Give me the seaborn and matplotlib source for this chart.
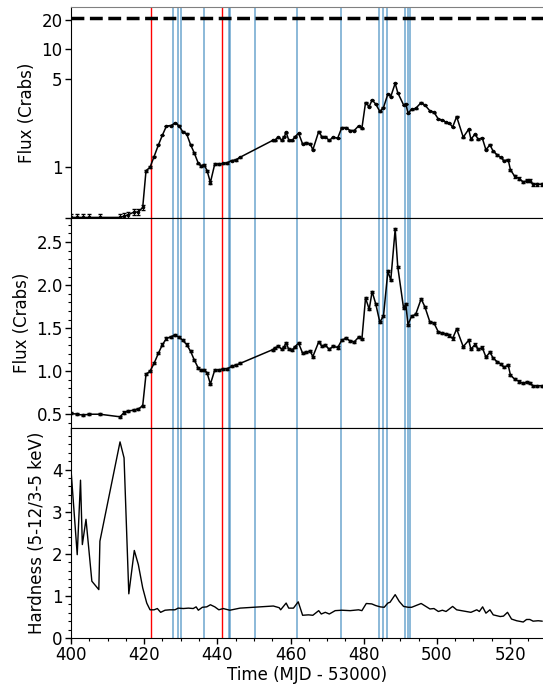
import numpy as np
import matplotlib
matplotlib.use('Agg')
import matplotlib.pyplot as plt
from matplotlib.ticker import MultipleLocator, NullLocator, FixedLocator, FixedFormatter
import seaborn as sns

# MJD - 53000
time = [400.0, 401.7, 403.2, 405.0, 407.9, 413.4, 414.5, 415.7, 417.2, 418.4, 419.6,
        420.5, 421.6, 422.7, 423.9, 425.0, 426.1, 427.3, 428.4, 429.5, 430.5, 431.6,
        432.7, 433.7, 434.8, 435.5, 436.4, 437.2, 438.1, 439.3, 440.4, 441.6, 442.7,
        443.9, 445.0, 446.2, 455.1, 455.7, 456.7, 457.6, 458.3, 458.8, 459.5, 460.5,
        461.2, 462.2, 463.3, 464.3, 465.4, 466.1, 467.7, 468.6, 469.5, 470.6, 471.6,
        472.9, 474.0, 475.2, 476.3, 477.4, 478.6, 479.5, 480.5, 481.5, 482.3, 483.3,
        484.4, 485.4, 486.6, 487.4, 488.6, 489.3, 490.9, 491.5, 492.1, 493.1, 494.2,
        495.7, 496.7, 498.1, 499.2, 500.4, 501.5, 502.5, 503.4, 504.3, 505.4, 507.2,
        508.7, 509.3, 510.4, 511.3, 512.4, 513.4, 514.5, 515.4, 516.5, 517.4, 518.3,
        519.5, 520.1, 521.3, 522.5, 523.6, 524.5, 525.4, 526.3, 527.4, 528.6]

flux_top = [0.64, 0.64, 0.64, 0.64, 0.64, 0.64, 0.644, 0.65, 0.66, 0.66, 0.68,
            0.95, 0.99, 1.14, 1.36, 1.60, 1.88, 1.89, 1.98, 1.89, 1.70, 1.63,
            1.36, 1.20, 1.04, 1.01, 1.02, 0.95, 0.835, 1.035, 1.03, 1.04, 1.05,
            1.08, 1.09, 1.13, 1.46, 1.47, 1.54, 1.47, 1.55, 1.68, 1.47, 1.46,
            1.55, 1.65, 1.38, 1.40, 1.38, 1.26, 1.70, 1.55, 1.55, 1.46, 1.54,
            1.52, 1.82, 1.82, 1.73, 1.73, 1.88, 1.80, 2.97, 2.74, 3.14, 2.88,
            2.48, 2.68, 3.57, 3.38, 4.51, 3.67, 2.83, 2.90, 2.40, 2.59, 2.64,
            2.97, 2.83, 2.51, 2.44, 2.14, 2.10, 2.01, 1.98, 1.84, 2.24, 1.54,
            1.77, 1.49, 1.62, 1.49, 1.52, 1.26, 1.36, 1.23, 1.17, 1.13, 1.08,
            1.09, 0.96, 0.89, 0.87, 0.84, 0.85, 0.85, 0.82, 0.82, 0.82]

flux_mid = [0.51, 0.50, 0.49, 0.50, 0.50, 0.47, 0.52, 0.535, 0.55, 0.56, 0.60,
            0.965, 1.00, 1.09, 1.21, 1.31, 1.38, 1.40, 1.42, 1.395, 1.36, 1.31,
            1.23, 1.13, 1.035, 1.01, 1.015, 0.98, 0.85, 1.015, 1.015, 1.025, 1.03,
            1.055, 1.07, 1.09, 1.25, 1.27, 1.29, 1.255, 1.285, 1.33, 1.255, 1.25,
            1.285, 1.325, 1.21, 1.22, 1.23, 1.17, 1.34, 1.29, 1.30, 1.255, 1.29,
            1.275, 1.36, 1.385, 1.35, 1.34, 1.395, 1.37, 1.85, 1.72, 1.925, 1.78,
            1.57, 1.64, 2.16, 2.06, 2.65, 2.215, 1.73, 1.78, 1.54, 1.64, 1.66,
            1.84, 1.75, 1.57, 1.56, 1.455, 1.44, 1.43, 1.415, 1.38, 1.49, 1.285,
            1.36, 1.255, 1.31, 1.255, 1.275, 1.165, 1.22, 1.15, 1.11, 1.085, 1.045,
            1.07, 0.955, 0.905, 0.88, 0.86, 0.87, 0.86, 0.83, 0.83, 0.83]

flux_err = 0.012

hard_time = [400.0, 401.7, 402.6, 403.1, 404.1, 405.7, 407.6, 407.9, 413.4, 414.5,
             415.8, 417.3, 418.4, 419.6, 420.7, 421.6, 422.7, 423.6, 424.5, 425.7,
             427.0, 428.4, 429.3, 430.7, 432.1, 433.4, 434.2, 434.8, 435.9, 437.1,
             438.1, 439.3, 440.4, 441.6, 443.4, 446.2, 455.3, 456.9, 457.3, 458.8,
             459.5, 460.8, 462.1, 463.3, 464.9, 466.1, 467.7, 468.4, 469.5, 470.6,
             472.2, 474.0, 476.3, 478.6, 479.5, 480.7, 482.2, 483.3, 484.5, 485.6,
             486.6, 487.2, 488.6, 489.7, 490.9, 492.2, 493.1, 495.7, 498.1, 499.2,
             500.4, 501.5, 502.5, 504.3, 505.4, 509.3, 510.9, 511.6, 512.5, 513.4,
             514.5, 515.4, 517.3, 518.2, 519.3, 520.4, 521.8, 523.6, 524.5, 525.4,
             526.3, 527.7, 528.8]
hardness = [4.0, 1.98, 3.75, 2.22, 2.82, 1.35, 1.15, 2.30, 4.66, 4.28,
            1.05, 2.08, 1.745, 1.19, 0.83, 0.67, 0.67, 0.70, 0.61, 0.66,
            0.67, 0.67, 0.71, 0.70, 0.71, 0.70, 0.74, 0.66, 0.73, 0.74,
            0.79, 0.74, 0.67, 0.70, 0.66, 0.71, 0.76, 0.72, 0.67, 0.83,
            0.71, 0.71, 0.86, 0.54, 0.55, 0.54, 0.65, 0.57, 0.61, 0.57,
            0.65, 0.66, 0.65, 0.67, 0.65, 0.82, 0.81, 0.77, 0.74, 0.73,
            0.83, 0.85, 1.03, 0.87, 0.75, 0.73, 0.73, 0.82, 0.69, 0.70,
            0.63, 0.66, 0.63, 0.75, 0.67, 0.61, 0.67, 0.63, 0.74, 0.59,
            0.67, 0.55, 0.51, 0.52, 0.61, 0.45, 0.41, 0.38, 0.44, 0.44,
            0.40, 0.41, 0.40]

red_lines = [421.8, 441.4]
blue_lines = [427.8, 429.2, 430.1, 436.3, 443.3, 443.5, 450.3, 461.7, 473.9,
              484.2, 485.2, 486.4, 491.2, 492.1, 492.7]
dash_level = 21

sns.set_style('ticks')
plt.rcParams['font.family'] = ['DejaVu Sans']
plt.rcParams['font.size'] = 12
plt.rcParams['xtick.direction'] = 'out'
plt.rcParams['ytick.direction'] = 'out'
for key in ['text.color', 'axes.labelcolor', 'xtick.color', 'ytick.color', 'axes.edgecolor']:
    plt.rcParams[key] = 'black'

fig = plt.figure(figsize=(5.43, 6.87), dpi=100)
left, width = 71 / 543, 472 / 543
ax1 = fig.add_axes([left, 469 / 687, width, 210.7 / 687])
ax2 = fig.add_axes([left, 259 / 687, width, 210 / 687])
ax3 = fig.add_axes([left, 49 / 687, width, 210 / 687])


def add_lines(ax):
    for t in blue_lines:
        ax.axvline(t, color='C0', alpha=0.6, lw=1.2, zorder=1)
    for t in red_lines:
        ax.axvline(t, color='red', lw=1, zorder=1)


# top panel: flux on offset-log scale
sns.lineplot(x=time, y=flux_top, ax=ax1, color='k', lw=1.1, marker='o', ms=1.8,
             mec='k', estimator=None)
ax1.errorbar(time, flux_top, yerr=flux_err, fmt='none', ecolor='k', elinewidth=0.8, capsize=1.5)
ax1.axhline(dash_level, color='k', ls='--', lw=2.5)
ax1.set_yscale('function', functions=(lambda y: np.log10(np.clip(y - 0.5, 1e-6, None)),
                                      lambda y: 10 ** y + 0.5))
ax1.set_ylim(0.638, 27.3)
ax1.yaxis.set_major_locator(FixedLocator([0.638, 1, 5, 10, 20]))
ax1.yaxis.set_major_formatter(FixedFormatter(['', '1', '5', '10', '20']))
ax1.yaxis.set_minor_locator(NullLocator())
ax1.set_ylabel('Flux (Crabs)')
ax1.spines['top'].set_color('0.5')

# middle panel: linear flux
sns.lineplot(x=time, y=flux_mid, ax=ax2, color='k', lw=1.1, marker='o', ms=1.8,
             mec='k', estimator=None)
ax2.errorbar(time, flux_mid, yerr=flux_err, fmt='none', ecolor='k', elinewidth=0.8, capsize=1.5)
ax2.set_ylim(0.34, 2.78)
ax2.yaxis.set_major_locator(MultipleLocator(0.5))
ax2.yaxis.set_minor_locator(MultipleLocator(0.1))
ax2.set_ylabel('Flux (Crabs)')

# bottom panel: hardness ratio
sns.lineplot(x=hard_time, y=hardness, ax=ax3, color='k', lw=1, estimator=None)
ax3.set_ylim(0, 4.99)
ax3.yaxis.set_major_locator(MultipleLocator(1))
ax3.yaxis.set_minor_locator(MultipleLocator(0.2))
ax3.xaxis.set_minor_locator(MultipleLocator(5))
ax3.set_ylabel('Hardness (5-12/3-5 keV)')
ax3.set_xlabel('Time (MJD - 53000)', labelpad=1)

for ax in (ax1, ax2, ax3):
    add_lines(ax)
    ax.set_xlim(400, 529)
    ax.xaxis.set_major_locator(MultipleLocator(20))
    ax.spines['right'].set_visible(False)
    ax.tick_params(which='major', length=4, width=1, pad=2)
    ax.tick_params(which='minor', length=2, width=0.8)
for ax in (ax1, ax2):
    ax.tick_params(axis='x', labelbottom=False)
    ax.set_xlabel('')

fig.savefig('out.png', dpi=100)
